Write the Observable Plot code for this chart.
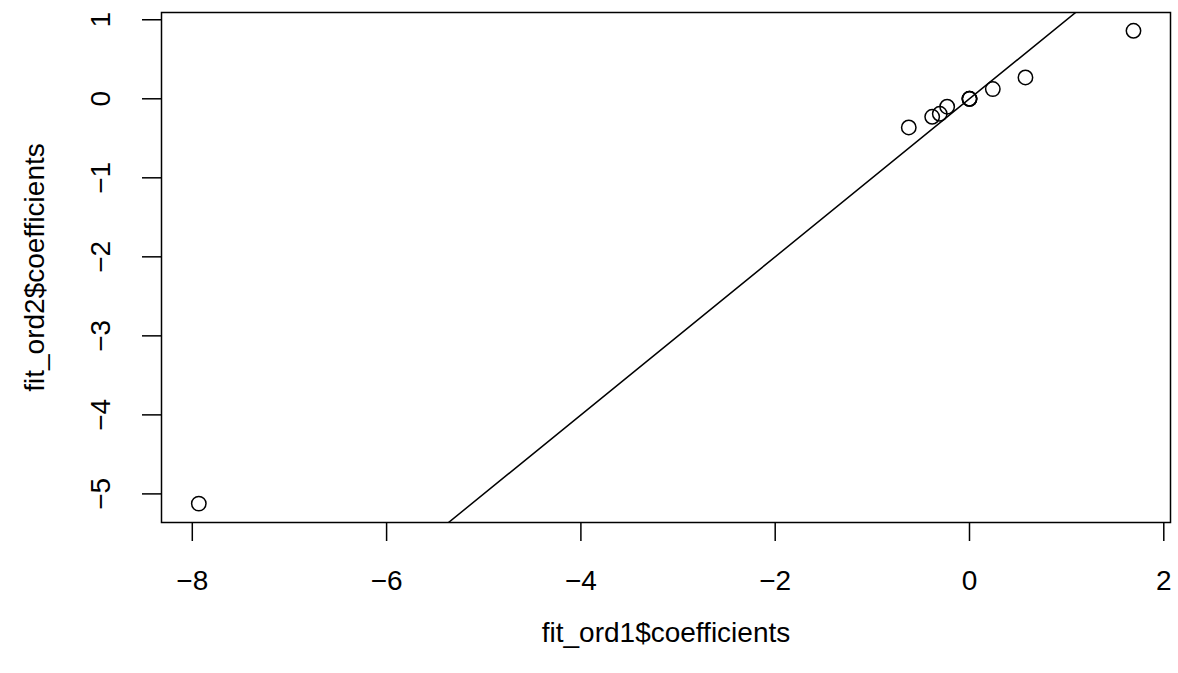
<!DOCTYPE html>
<html>
<head>
<meta charset="utf-8">
<script src="https://cdn.jsdelivr.net/npm/d3@7"></script>
<script src="https://cdn.jsdelivr.net/npm/@observablehq/plot@0.6"></script>
<style>
  html, body { margin: 0; padding: 0; background: #ffffff; }
  #chart { width: 1178px; height: 673px; }
</style>
</head>
<body>
<div id="chart"></div>
<script>
// Data (fit_ord1$coefficients vs fit_ord2$coefficients)
const coefOrd1 = [-7.933, -0.625, -0.384, -0.306, -0.23, 0, 0, 0, 0.24, 0.576, 1.688];
const coefOrd2 = [-5.123, -0.363, -0.228, -0.19, -0.10, 0, 0, 0, 0.123, 0.27, 0.861];
const xTicks = [-8, -6, -4, -2, 0, 2];
const yTicks = [-5, -4, -3, -2, -1, 0, 1];
const xLabel = "fit_ord1$coefficients";
const yLabel = "fit_ord2$coefficients";
const abline = { intercept: 0, slope: 1 };

const xDomain = [-8.317, 2.069];
const yDomain = [-5.362, 1.092];

const points = coefOrd1.map((x, i) => ({ x, y: coefOrd2[i] }));
const lineData = xDomain.map(x => ({ x, y: abline.intercept + abline.slope * x }));
const fmt = d => (d < 0 ? "\u2212" + Math.abs(d) : String(d));

const FONT = "'Liberation Sans', Arial, Helvetica, sans-serif";
const FS = 28;

const chart = Plot.plot({
  width: 1178,
  height: 673,
  marginLeft: 161,
  marginRight: 8,
  marginTop: 12,
  marginBottom: 151,
  x: { domain: xDomain },
  y: { domain: yDomain },
  style: { fontFamily: FONT, fontSize: FS + "px", background: "#ffffff", color: "#000000" },
  marks: [
    Plot.line(lineData, { x: "x", y: "y", stroke: "black", strokeWidth: 1.5, clip: true }),
    Plot.dot(points, { x: "x", y: "y", r: 7.2, stroke: "black", strokeWidth: 1.5, fill: "none" }),
    Plot.frame({ stroke: "black", strokeWidth: 1.5 }),
    Plot.axisX(xTicks, { tickSize: 19, tickPadding: 29, tickFormat: fmt, label: null, fontSize: FS, strokeWidth: 1.5 }),
    Plot.axisY(yTicks, { tickSize: 19, tickFormat: () => "", label: null, strokeWidth: 1.5 }),
    Plot.text(yTicks, { y: d => d, text: fmt, frameAnchor: "left", textAnchor: "middle", dx: -60, rotate: -90, fontSize: FS, fill: "black" }),
    Plot.text([xLabel], { text: d => d, frameAnchor: "bottom", textAnchor: "middle", dy: 119, fontSize: FS, fill: "black" }),
    Plot.text([yLabel], { text: d => d, frameAnchor: "left", textAnchor: "middle", dx: -126, rotate: -90, fontSize: FS, fill: "black" })
  ]
});
document.getElementById("chart").appendChild(chart);
</script>
</body>
</html>
